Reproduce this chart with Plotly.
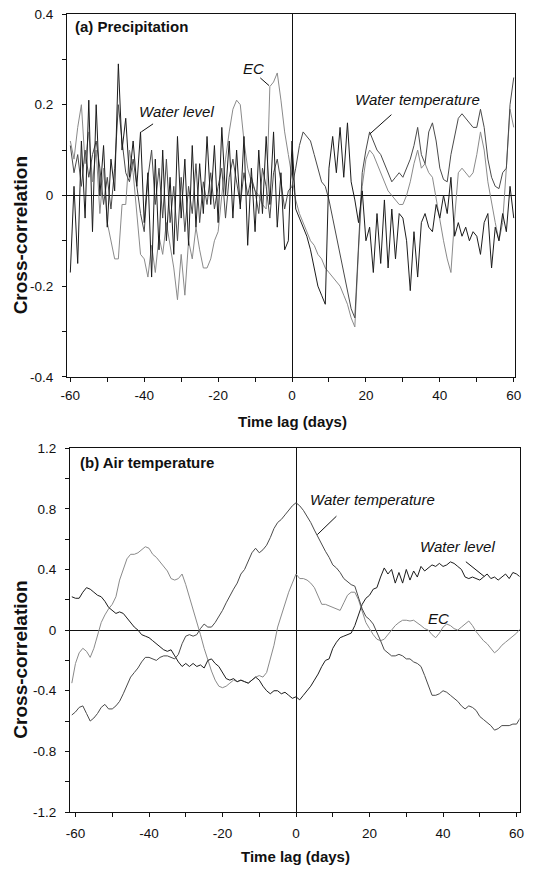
import plotly.graph_objects as go

# ---------------- data ----------------
lags_a = list(range(-60, 61))
lags_b = list(range(-61, 62))

# (a) Precipitation
wl_a = [-0.17, 0.02, -0.15, 0.12, -0.05, 0.21, -0.08, 0.20, 0.00, 0.11,
        -0.07, 0.08, 0.01, 0.29, 0.10, 0.17, 0.04, 0.12, 0.02, 0.14,
        -0.06, 0.05, -0.18, 0.08, -0.12, 0.10, -0.10, 0.04, -0.13, 0.13,
        -0.05, 0.08, -0.11, 0.11, -0.07, 0.07, -0.04, 0.13, -0.02, 0.11,
        -0.06, 0.15, 0.00, 0.12, -0.05, 0.10, -0.03, 0.13, -0.11, 0.06,
        -0.08, 0.10, -0.04, 0.13, -0.02, 0.14, -0.07, 0.05, -0.12, -0.10,
        0.12, -0.03, -0.05, -0.07, -0.09, -0.12, -0.16, -0.20, -0.22, -0.24,
        0.06, 0.13, 0.05, 0.15, 0.04, 0.16, 0.03, -0.01, -0.06, 0.01,
        -0.10, -0.07, -0.17, -0.04, -0.15, -0.01, -0.16, -0.03, -0.14, -0.04,
        -0.05, -0.10, -0.21, -0.08, -0.18, -0.06, -0.04, -0.07, -0.08, -0.02,
        -0.05, 0.00, -0.04, 0.04, -0.09, -0.06, -0.09, -0.07, -0.10, -0.08,
        -0.09, -0.13, -0.06, -0.04, -0.16, -0.07, -0.10, -0.04, -0.08, 0.02,
        -0.05]
wt_a = [0.11, 0.05, 0.09, 0.02, 0.10, 0.04, 0.09, 0.12, 0.06, -0.02,
        0.04, -0.03, 0.06, 0.20, 0.12, 0.05, 0.03, 0.08, 0.02, -0.04,
        -0.08, 0.04, 0.10, -0.02, 0.06, -0.05, 0.08, -0.06, 0.02, -0.10,
        0.04, -0.08, 0.02, -0.04, 0.07, -0.06, 0.03, -0.02, 0.05, -0.03,
        0.02, 0.06, -0.05, 0.04, 0.08, 0.03, -0.02, 0.05, 0.00, 0.04,
        0.01, -0.04, 0.06, 0.02, -0.05, 0.05, 0.08, 0.03, -0.03, 0.01,
        0.02, 0.06, 0.11, 0.14, 0.13, 0.12, 0.09, 0.06, 0.03, 0.02,
        -0.01, -0.05, -0.09, -0.13, -0.17, -0.21, -0.25, -0.27, -0.12, 0.05,
        0.10, 0.14, 0.12, 0.10, 0.09, 0.07, 0.05, 0.03, 0.04, 0.05,
        0.04, 0.06, 0.08, 0.11, 0.15, 0.09, 0.07, 0.14, 0.16, 0.12,
        0.06, 0.035, 0.03, 0.09, 0.13, 0.17, 0.18, 0.17, 0.16, 0.15,
        0.15, 0.19, 0.15, 0.08, 0.04, 0.02, 0.015, 0.05, 0.06, 0.20,
        0.26]
ec_a = [0.12, 0.08, 0.15, 0.20, 0.07, 0.14, 0.03, 0.10, -0.04, 0.06,
        -0.06, -0.10, -0.14, -0.14, -0.02, -0.02, 0.10, 0.05, -0.05, -0.13,
        -0.14, -0.18, -0.11, -0.17, -0.09, -0.13, -0.06, -0.11, -0.16, -0.23,
        -0.13, -0.22, -0.10, -0.14, -0.07, -0.12, -0.16, -0.16, -0.14, -0.10,
        -0.08, 0.00, 0.08, 0.14, 0.19, 0.21, 0.20, 0.12, 0.06, 0.03,
        0.01, 0.00, -0.02, -0.03, 0.24, 0.25, 0.27, 0.21, 0.14, 0.09,
        0.04, -0.01, -0.04, -0.06, -0.08, -0.10, -0.11, -0.13, -0.14, -0.16,
        -0.17, -0.18, -0.19, -0.20, -0.22, -0.24, -0.27, -0.29, -0.12, 0.02,
        0.08, 0.10, 0.09, 0.07, 0.05, 0.03, 0.01, 0.00, -0.01, -0.02,
        -0.02, 0.00, 0.03, 0.07, 0.10, 0.06, 0.07, 0.05, 0.04, -0.01,
        -0.05, -0.10, -0.14, -0.17, -0.05, 0.05, 0.06, 0.05, 0.04, 0.05,
        0.09, 0.14, 0.10, 0.03, -0.02, -0.06, -0.10, -0.06, 0.06, 0.19,
        0.15]

# (b) Air temperature
wt_b = [-0.56, -0.54, -0.51, -0.50, -0.55, -0.60, -0.58, -0.55, -0.51, -0.49,
        -0.52, -0.52, -0.50, -0.47, -0.42, -0.36, -0.31, -0.28, -0.25, -0.21,
        -0.18, -0.18, -0.19, -0.20, -0.18, -0.17, -0.17, -0.18, -0.19, -0.16,
        -0.09, -0.04, -0.03, -0.04, -0.03, 0.01, 0.04, 0.02, 0.02, 0.05,
        0.09, 0.13, 0.18, 0.23, 0.27, 0.31, 0.37, 0.40, 0.46, 0.51,
        0.54, 0.51, 0.53, 0.56, 0.61, 0.67, 0.71, 0.73, 0.76, 0.79,
        0.82, 0.84, 0.82, 0.79, 0.75, 0.71, 0.66, 0.61, 0.56, 0.52,
        0.48, 0.43, 0.41, 0.38, 0.34, 0.32, 0.30, 0.29, 0.22, 0.14,
        0.09, 0.07, 0.04, -0.01, -0.07, -0.13, -0.15, -0.17, -0.17, -0.16,
        -0.17, -0.19, -0.19, -0.21, -0.22, -0.24, -0.30, -0.37, -0.43, -0.43,
        -0.42, -0.40, -0.41, -0.43, -0.45, -0.47, -0.50, -0.52, -0.50, -0.51,
        -0.53, -0.57, -0.59, -0.61, -0.63, -0.66, -0.65, -0.63, -0.63, -0.63,
        -0.62, -0.62, -0.58]
wl_b = [0.22, 0.21, 0.21, 0.25, 0.28, 0.27, 0.25, 0.23, 0.22, 0.19,
        0.15, 0.13, 0.11, 0.12, 0.11, 0.08, 0.05, 0.02, 0.00, -0.03,
        -0.04, -0.05, -0.07, -0.09, -0.11, -0.13, -0.14, -0.13, -0.17, -0.21,
        -0.24, -0.22, -0.24, -0.22, -0.24, -0.23, -0.25, -0.20, -0.19, -0.22,
        -0.24, -0.28, -0.32, -0.33, -0.32, -0.34, -0.33, -0.34, -0.35, -0.33,
        -0.31, -0.33, -0.37, -0.40, -0.42, -0.40, -0.40, -0.42, -0.41, -0.43,
        -0.45, -0.44, -0.46, -0.43, -0.40, -0.37, -0.33, -0.29, -0.24, -0.20,
        -0.19, -0.12, -0.08, -0.05, -0.04, -0.03, -0.02, 0.03, 0.10, 0.17,
        0.21, 0.23, 0.27, 0.28, 0.35, 0.41, 0.37, 0.40, 0.31, 0.38,
        0.31, 0.40, 0.33, 0.39, 0.35, 0.42, 0.39, 0.41, 0.43, 0.42,
        0.44, 0.42, 0.43, 0.45, 0.44, 0.42, 0.40, 0.35, 0.34, 0.35,
        0.34, 0.33, 0.35, 0.37, 0.34, 0.35, 0.33, 0.35, 0.37, 0.34,
        0.38, 0.37, 0.35]
ec_b = [-0.35, -0.22, -0.15, -0.12, -0.14, -0.18, -0.12, -0.03, 0.05, 0.10,
        0.14, 0.17, 0.22, 0.33, 0.40, 0.47, 0.50, 0.50, 0.51, 0.53,
        0.55, 0.54, 0.50, 0.48, 0.45, 0.42, 0.39, 0.34, 0.33, 0.34,
        0.37, 0.30, 0.22, 0.13, 0.05, -0.03, -0.12, -0.20, -0.27, -0.33,
        -0.37, -0.38, -0.37, -0.35, -0.33, -0.34, -0.33, -0.34, -0.35, -0.33,
        -0.31, -0.30, -0.31, -0.28, -0.19, -0.10, 0.02, 0.10, 0.18, 0.25,
        0.31, 0.37, 0.34, 0.34, 0.33, 0.31, 0.28, 0.22, 0.17, 0.17,
        0.16, 0.15, 0.14, 0.13, 0.18, 0.23, 0.25, 0.25, 0.20, 0.12,
        0.05, 0.01, -0.03, -0.06, -0.07, -0.06, -0.03, 0.00, 0.03, 0.05,
        0.065, 0.065, 0.06, 0.065, 0.05, 0.03, 0.01, 0.00, -0.03, -0.05,
        -0.02, 0.02, 0.04, 0.03, 0.01, 0.00, 0.02, 0.04, 0.06, 0.03,
        -0.01, -0.04, -0.07, -0.09, -0.12, -0.15, -0.13, -0.10, -0.08, -0.06,
        -0.04, -0.02, 0.01]

xtick_vals = [-60, -40, -20, 0, 20, 40, 60]
xtick_text = ["-60", "-40", "-20", "0", "20", "40", "60"]
ytick_vals_a = [-0.4, -0.2, 0, 0.2, 0.4]
ytick_text_a = ["-0.4", "-0.2", "0", "0.2", "0.4"]
ytick_vals_b = [-1.2, -0.8, -0.4, 0, 0.4, 0.8, 1.2]
ytick_text_b = ["-1.2", "-0.8", "-0.4", "0", "0.4", "0.8", "1.2"]

# ---------------- style ----------------
FONT = "Liberation Sans, Arial, sans-serif"
INK = "#111111"
C_WL = "#1c1c1c"
C_WT = "#4a4a4a"
C_EC = "#8a8a8a"

fig = go.Figure()

for xs, ys, col, xa, ya in [
    (lags_a, ec_a, C_EC, "x", "y"),
    (lags_a, wt_a, C_WT, "x", "y"),
    (lags_a, wl_a, C_WL, "x", "y"),
    (lags_b, ec_b, C_EC, "x2", "y2"),
    (lags_b, wl_b, C_WL, "x2", "y2"),
    (lags_b, wt_b, C_WT, "x2", "y2"),
]:
    fig.add_trace(go.Scatter(x=xs, y=ys, mode="lines", xaxis=xa, yaxis=ya,
                             line=dict(color=col, width=1), showlegend=False,
                             hoverinfo="skip"))

def xaxis_cfg(domain, anchor, rng, standoff):
    return dict(domain=domain, anchor=anchor, range=rng,
                tickmode="array", tickvals=xtick_vals, ticktext=xtick_text,
                ticks="outside", ticklen=4, tickwidth=1, tickcolor=INK,
                minor=dict(tickmode="linear", tick0=0, dtick=10, ticks="outside",
                           ticklen=4, tickwidth=1, tickcolor=INK),
                showline=True, linecolor=INK, linewidth=1, mirror=True,
                showgrid=False, zeroline=True, zerolinecolor=INK, zerolinewidth=1,
                tickfont=dict(family=FONT, size=13.5, color=INK),
                ticklabelstandoff=standoff)

def yaxis_cfg(domain, anchor, rng, vals, text, minor_dt):
    return dict(domain=domain, anchor=anchor, range=rng,
                tickmode="array", tickvals=vals, ticktext=text,
                ticks="outside", ticklen=4, tickwidth=1, tickcolor=INK,
                minor=dict(tickmode="linear", tick0=0, dtick=minor_dt, ticks="outside",
                           ticklen=4, tickwidth=1, tickcolor=INK),
                showline=True, linecolor=INK, linewidth=1, mirror=True,
                showgrid=False, zeroline=True, zerolinecolor=INK, zerolinewidth=1,
                tickfont=dict(family=FONT, size=13.5, color=INK),
                ticklabelstandoff=6)

ML, MR, MT, MB = 66, 10, 7, 56
W, H = 533, 869
PW, PH = W - ML - MR, H - MT - MB

def px2paper_x(px):
    return (px - ML) / PW

def px2paper_y(py):
    return (H - MB - py) / PH

fig.update_layout(
    width=W, height=H,
    margin=dict(l=ML, r=MR, t=MT, b=MB),
    paper_bgcolor="white", plot_bgcolor="white",
    xaxis=xaxis_cfg([px2paper_x(67), px2paper_x(518)], "y", [-60.9, 60.35], 2),
    yaxis=yaxis_cfg([px2paper_y(373), px2paper_y(7)], "x", [-0.4, 0.4],
                    ytick_vals_a, ytick_text_a, 0.1),
    xaxis2=xaxis_cfg([px2paper_x(70), px2paper_x(522.5)], "y2", [-61.5, 60.8], 5),
    yaxis2=yaxis_cfg([px2paper_y(812), px2paper_y(445)], "x2", [-1.2, 1.2],
                     ytick_vals_b, ytick_text_b, 0.2),
)

ann = []
def text(x, y, s, xr, yr, size=15, bold=False, italic=False, xanchor="center"):
    if bold:
        s = "<b>" + s + "</b>"
    if italic:
        s = "<i>" + s + "</i>"
    ann.append(dict(x=x, y=y, xref=xr, yref=yr, text=s, showarrow=False,
                    xanchor=xanchor, yanchor="middle",
                    font=dict(family=FONT, size=size, color=INK)))

def arrow(x0, y0, x1, y1, xr, yr):
    ann.append(dict(x=x1, y=y1, ax=x0, ay=y0, xref=xr, yref=yr, axref=xr, ayref=yr,
                    text="", showarrow=True, arrowhead=0, arrowwidth=1,
                    arrowcolor=INK, standoff=0, startstandoff=0))

# panel (a)
text(-59.3, 0.372, "(a) Precipitation", "x", "y", size=15, bold=True, xanchor="left")
text(-10.4, 0.28, "EC", "x", "y", italic=True)
arrow(-9.0, 0.262, -6.2, 0.242, "x", "y")
text(-31.3, 0.184, "Water level", "x", "y", italic=True)
arrow(-37.2, 0.16, -40.8, 0.14, "x", "y")
text(34.0, 0.212, "Water temperature", "x", "y", italic=True)
arrow(27.3, 0.181, 21.0, 0.135, "x", "y")

# panel (b)
text(-59.4, 1.108, "(b) Air temperature", "x2", "y2", size=15, bold=True, xanchor="left")
text(20.9, 0.859, "Water temperature", "x2", "y2", italic=True)
arrow(11.4, 0.761, 5.8, 0.63, "x2", "y2")
text(43.9, 0.551, "Water level", "x2", "y2", italic=True)
arrow(45.8, 0.459, 51.2, 0.354, "x2", "y2")
text(38.7, 0.079, "EC", "x2", "y2", italic=True)

# axis titles
text(px2paper_x(293.5), px2paper_y(418), "Time lag (days)", "paper", "paper", size=15, bold=True)
text(px2paper_x(297.5), px2paper_y(857), "Time lag (days)", "paper", "paper", size=15, bold=True)
for cy in (230, 658):
    ann.append(dict(x=px2paper_x(20), y=px2paper_y(cy), xref="paper", yref="paper",
                    text="<b>Cross-correlation</b>", showarrow=False, textangle=-90,
                    xanchor="center", yanchor="middle",
                    font=dict(family=FONT, size=19, color=INK)))

fig.update_layout(annotations=ann)
fig.write_html("out.html")
